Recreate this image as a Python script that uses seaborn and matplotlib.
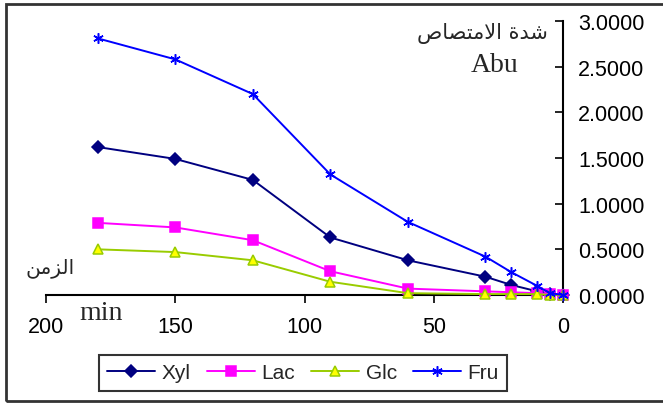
import matplotlib
matplotlib.use("Agg")
import matplotlib.pyplot as plt
import seaborn as sns
import pandas as pd
from matplotlib.patches import Rectangle

# Data
time_min = [180, 150, 120, 90, 60, 30, 20, 10, 5, 0]
xyl = [1.62, 1.49, 1.26, 0.63, 0.38, 0.20, 0.11, 0.04, 0.01, 0.0]
lac = [0.79, 0.74, 0.60, 0.26, 0.07, 0.04, 0.03, 0.02, 0.01, 0.0]
glc = [0.50, 0.47, 0.38, 0.145, 0.02, 0.01, 0.01, 0.01, 0.0, 0.0]
fru = [2.81, 2.58, 2.20, 1.32, 0.80, 0.42, 0.25, 0.10, 0.02, 0.0]
series_names = ["Xyl", "Lac", "Glc", "Fru"]
x_ticks = [200, 150, 100, 50, 0]
y_ticks = [0.0, 0.5, 1.0, 1.5, 2.0, 2.5, 3.0]

# Arabic labels in visual order (presentation forms)
ylabel_ar = "\uFEB9\uFE8E\uFEBC\uFE98\uFEE3\uFEFB\uFE8D \uFE93\uFEAA\uFEB7"
xlabel_ar = "\uFEE6\uFEE3\uFEB0\uFEDF\uFE8D"

sns.set_style("white")
plt.rcParams["font.family"] = ["Liberation Sans", "DejaVu Sans"]

df = pd.DataFrame({
    "t": time_min * 4,
    "v": xyl + lac + glc + fru,
    "s": sum([[n] * len(time_min) for n in series_names], []),
})

styles = {
    "Xyl": dict(color="#000080", marker="D", ms=6, mfc="#000080", mec="#000080"),
    "Lac": dict(color="#FF00FF", marker="s", ms=6.5, mfc="#FF00FF", mec="#FF00FF"),
    "Glc": dict(color="#99CC00", marker="^", ms=7.5, mfc="#FFFF00", mec="#99CC00"),
    "Fru": dict(color="#0000FF", marker=(6, 2, 0), ms=7.5, mfc="#0000FF", mec="#0000FF"),
}

fig = plt.figure(figsize=(6.63, 4.06), dpi=100)
ax = fig.add_axes([46 / 663, 1 - 296 / 406, (563 - 46) / 663, (296 - 22) / 406])

for name in series_names:
    st = styles[name]
    sub = df[df["s"] == name]
    sns.lineplot(data=sub, x="t", y="v", ax=ax, color=st["color"], lw=1.4,
                 marker=st["marker"], markersize=st["ms"],
                 markerfacecolor=st["mfc"], markeredgecolor=st["mec"],
                 markeredgewidth=1.1, label=name, clip_on=False, zorder=3)

ax.set_xlim(200, 0)
ax.set_ylim(0, 3)
ax.set_xticks(x_ticks)
ax.set_xticklabels([str(v) for v in x_ticks])
ax.set_yticks(y_ticks)
ax.set_yticklabels([f"{v:.4f}" for v in y_ticks])
ax.yaxis.tick_right()
ax.set_xlabel("")
ax.set_ylabel("")
for s in ["top", "left"]:
    ax.spines[s].set_visible(False)
for s in ["bottom", "right"]:
    ax.spines[s].set_color("black")
    ax.spines[s].set_linewidth(1.5)
ax.tick_params(axis="y", direction="in", length=6, width=1.2, pad=11,
               labelsize=15.5, colors="black", right=True, left=False)
ax.tick_params(axis="x", direction="out", length=6, width=1.2, pad=9,
               labelsize=15.5, colors="black", bottom=True)
ax.grid(False)

leg = ax.legend(loc="center", bbox_to_anchor=(303 / 663, 1 - 374 / 406),
                bbox_transform=fig.transFigure, ncol=4, frameon=True,
                fancybox=False, edgecolor="black", fontsize=15,
                handlelength=2.3, handletextpad=0.3, columnspacing=0.8,
                borderpad=0.4)
leg.get_frame().set_linewidth(1.5)

fig.text(548 / 663, 1 - 34 / 406, ylabel_ar, ha="right", va="center",
         fontsize=15, family=["DejaVu Sans"])
fig.text(495 / 663, 1 - 65 / 406, "Abu", ha="center", va="center",
         fontsize=20, family=["Liberation Serif"])
fig.text(50 / 663, 1 - 268 / 406, xlabel_ar, ha="center", va="center",
         fontsize=14.5, family=["DejaVu Sans"])
fig.text(101 / 663, 1 - 314 / 406, "min", ha="center", va="center",
         fontsize=20, family=["Liberation Serif"])

fig.patches.append(Rectangle((6 / 663, 1 - 402 / 406), 0.995, (402 - 5) / 406,
                             transform=fig.transFigure, fill=False,
                             edgecolor="#333333", lw=2))

fig.savefig("out.png", dpi=100)
